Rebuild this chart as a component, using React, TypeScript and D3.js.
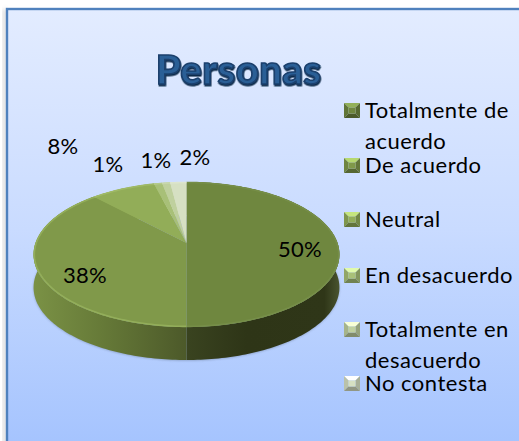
import React from "react";
import * as d3 from "d3";

const W = 519, H = 441;
const titleText = "Personas";
const categories = ["Totalmente de acuerdo", "De acuerdo", "Neutral", "En desacuerdo", "Totalmente en desacuerdo", "No contesta"];
const values = [50, 38, 8, 1, 1, 2];
const percentLabels = ["50%", "38%", "8%", "1%", "1%", "2%"];
const colors = ["#6f873f", "#80994a", "#92ad58", "#a8c078", "#bfd09e", "#d6e0c3"];
const rimColors = ["#768e48", "#93ae5a", "#9fb966", "#b5ca8a", "#c8d7ac", "#dde5cd"];
const labelX = [300, 85, 63, 108, 156, 195];
const labelY = [248.5, 274.5, 145.5, 163.5, 159.5, 156.5];
const legendLines = [["Totalmente de", "acuerdo"], ["De acuerdo"], ["Neutral"], ["En desacuerdo"], ["Totalmente en", "desacuerdo"], ["No contesta"]];
const legendY = [110, 165, 219, 275, 329, 383];

const cx = 186.5, cy = 243, depth = 33;
const k = 0.1586, a = 70.7, b = 151;

type P = [number, number];
// perspective projection of a point on the unit circle (angle clockwise from top)
const project = (ang: number, r = 1): P => {
  const u = Math.sin(ang) * r, v = -Math.cos(ang) * r;
  const f = 1 / (1 - k * v);
  return [cx + b * u * f, cy + a * v * f];
};
const arcPoints = (s: number, e: number): P[] => {
  const n = Math.max(2, Math.ceil((e - s) / 0.02));
  return d3.range(n + 1).map((i) => project(s + ((e - s) * i) / n));
};
const line = d3.line<P>();
const pie = d3.pie<number>().sort(null)(values);
const fullRim = arcPoints(0, Math.PI * 2);

export default function App() {
  return (
    <svg width={W} height={H} style={{ position: "absolute", left: 0, top: 0 }} fontFamily="Lato">
      <defs>
        <linearGradient id="bg" x1="0" y1="0" x2="0" y2="1">
          <stop offset="0" stopColor="#e3ecff" />
          <stop offset="0.5" stopColor="#c9dbff" />
          <stop offset="1" stopColor="#a4c3fe" />
        </linearGradient>
        <linearGradient id="wall0" gradientUnits="userSpaceOnUse" x1="184" x2="340" y1="0" y2="0">
          <stop offset="0" stopColor="#3a4420" />
          <stop offset="0.4" stopColor="#2e3517" />
          <stop offset="0.9" stopColor="#2f3618" />
          <stop offset="1" stopColor="#4a5530" />
        </linearGradient>
        <linearGradient id="wall1" gradientUnits="userSpaceOnUse" x1="35" x2="184" y1="0" y2="0">
          <stop offset="0" stopColor="#7a9145" />
          <stop offset="0.45" stopColor="#667a38" />
          <stop offset="1" stopColor="#4d5a2a" />
        </linearGradient>
        <filter id="soft" x="-10%" y="-10%" width="120%" height="120%">
          <feGaussianBlur stdDeviation="1.2" />
        </filter>
        <filter id="soft0" x="-20%" y="-20%" width="140%" height="140%">
          <feGaussianBlur stdDeviation="2" />
        </filter>
        <filter id="titleShadow" x="-10%" y="-20%" width="120%" height="150%">
          <feDropShadow dx="0.6" dy="1.6" stdDeviation="0.5" floodColor="#102a48" floodOpacity="1" />
        </filter>
      </defs>
      <rect x="0" y="0" width={W} height={H} fill="#fff" />
      <rect x="3" y="9" width="4" height={H} fill="#d8d8d8" filter="url(#soft0)" />
      <rect x="7" y="9" width={W} height={H} fill="url(#bg)" stroke="#4f81bd" strokeWidth="2.4" />

      <text x={238.5} y={83.5} fontWeight="900" fontSize="40" letterSpacing="0.4" textAnchor="middle" fill="#2c5f96" stroke="#1a3f6c" strokeWidth="1.6" filter="url(#titleShadow)">{titleText}</text>

      <path d={`${line(fullRim.map(([x, y]) => [x, y + depth + 0.5] as P))}Z`} fill="#4c5a6e" opacity="0.4" filter="url(#soft)" />
      {pie.map((d, i) => {
        const top = arcPoints(d.startAngle, d.endAngle);
        const low = top.map(([x, y]) => [x, y + depth] as P).reverse();
        return <path key={i} d={`${line([...top, ...low])}Z`} fill={i < 2 ? `url(#wall${i})` : colors[i]} />;
      })}
      {pie.map((d, i) => {
        const rim = arcPoints(d.startAngle, d.endAngle);
        return (
          <g key={i}>
            <path d={`${line([[cx, cy], ...rim])}Z`} fill={colors[i]} />
            <path d={line(rim.map(([x, y]) => [cx + (x - cx) * 0.995, y + (cy - y) * 0.008] as P)) ?? ""} fill="none" stroke={rimColors[i]} strokeWidth="1.6" />
          </g>
        );
      })}

      <g fontSize="22" letterSpacing="0.2" fill="#000" textAnchor="middle" dominantBaseline="central">
        {percentLabels.map((t, i) => (
          <text key={i} x={labelX[i]} y={labelY[i]}>{t}</text>
        ))}
      </g>

      {legendLines.map((lines, i) => {
        const x0 = 344, y0 = legendY[i] - 7, w = 16, h = 15, ins = 4.5;
        const c = d3.color(colors[i])!;
        const poly = (pts: P[], fill: string) => (
          <polygon points={pts.map((p) => p.join(",")).join(" ")} fill={fill} />
        );
        return (
          <g key={i}>
            {poly([[x0, y0], [x0 + w, y0], [x0 + w - ins, y0 + ins], [x0 + ins, y0 + ins]], d3.color(rimColors[i])!.brighter(0.6).formatHex())}
            {poly([[x0, y0], [x0 + ins, y0 + ins], [x0 + ins, y0 + h - ins], [x0, y0 + h]], c.darker(0.4).formatHex())}
            {poly([[x0 + w, y0], [x0 + w - ins, y0 + ins], [x0 + w - ins, y0 + h - ins], [x0 + w, y0 + h]], c.darker(0.7).formatHex())}
            {poly([[x0, y0 + h], [x0 + ins, y0 + h - ins], [x0 + w - ins, y0 + h - ins], [x0 + w, y0 + h]], c.darker(1.1).formatHex())}
            <rect x={x0 + ins} y={y0 + ins} width={w - 2 * ins} height={h - 2 * ins} fill={colors[i]} />
            <text fontSize="22" letterSpacing="0.5" fill="#000" dominantBaseline="central">
              {lines.map((t, j) => (
                <tspan key={j} x={365} y={legendY[i] - 1.5 + j * 31}>{t}</tspan>
              ))}
            </text>
          </g>
        );
      })}
    </svg>
  );
}
